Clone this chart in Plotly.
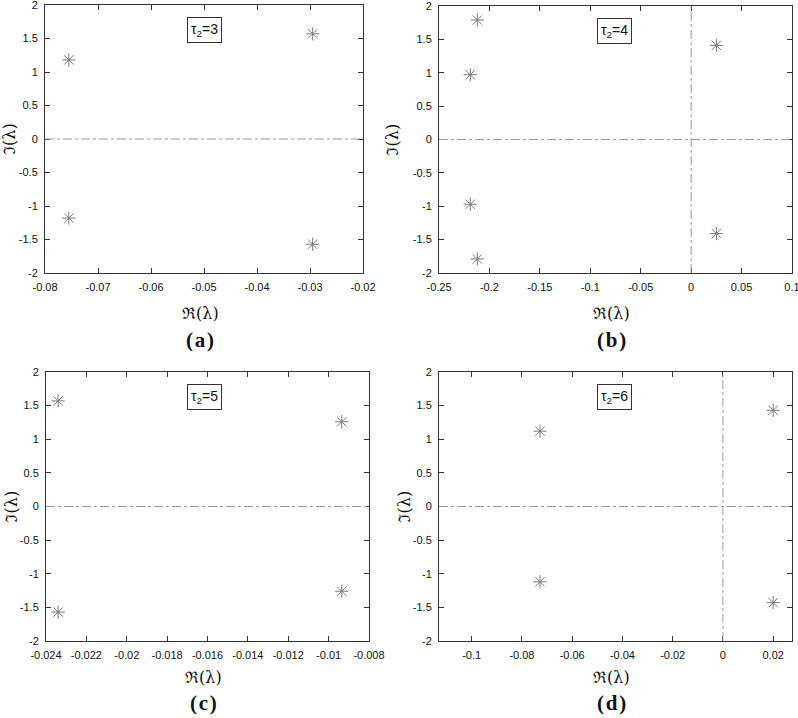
import plotly.graph_objects as go

# eigenvalues for each tau_2 (real part, imaginary part)
re_a = [-0.0755, -0.0755, -0.0295, -0.0295]
im_a = [1.18, -1.18, 1.57, -1.57]

re_b = [-0.212, -0.219, -0.219, -0.212, 0.025, 0.025]
im_b = [1.79, 0.97, -0.97, -1.79, 1.41, -1.41]

re_c = [-0.0234, -0.0234, -0.00935, -0.00935]
im_c = [1.57, -1.57, 1.26, -1.26]

re_d = [-0.0728, -0.0728, 0.020, 0.020]
im_d = [1.12, -1.12, 1.43, -1.43]

taus = [3, 4, 5, 6]
panel_letters = ["(a)", "(b)", "(c)", "(d)"]

x_ranges = [[-0.08, -0.02], [-0.25, 0.1], [-0.024, -0.008], [-0.113, 0.0275]]
x_ticks = [
    [-0.08, -0.07, -0.06, -0.05, -0.04, -0.03, -0.02],
    [-0.25, -0.2, -0.15, -0.1, -0.05, 0, 0.05, 0.1],
    [-0.024, -0.022, -0.02, -0.018, -0.016, -0.014, -0.012, -0.01, -0.008],
    [-0.1, -0.08, -0.06, -0.04, -0.02, 0, 0.02],
]
x_ticktext = [
    ["-0.08", "-0.07", "-0.06", "-0.05", "-0.04", "-0.03", "-0.02"],
    ["-0.25", "-0.2", "-0.15", "-0.1", "-0.05", "0", "0.05", "0.1"],
    ["-0.024", "-0.022", "-0.02", "-0.018", "-0.016", "-0.014", "-0.012", "-0.01", "-0.008"],
    ["-0.1", "-0.08", "-0.06", "-0.04", "-0.02", "0", "0.02"],
]
y_ticks = [-2, -1.5, -1, -0.5, 0, 0.5, 1, 1.5, 2]
y_ticktext = ["-2", "-1.5", "-1", "-0.5", "0", "0.5", "1", "1.5", "2"]
vline_at_zero = [False, True, False, True]

W, H = 798, 718
# panel boxes in pixels: left, right, top, bottom
boxes = [(45, 363, 5, 273), (439, 792, 6, 273), (46, 369, 372, 641), (439, 792, 372, 641)]
ytitle_x = [10, 392, 11, 404]
# vertical gap below the plot box for the axis title and panel letter
title_gap = [40, 40, 36, 36]
letter_gap = [67, 67, 62, 62]


def px(x):
    return x / W


def py(y):
    return 1 - y / H


tick_font = dict(family="Liberation Sans", size=11, color="#111")
centred = dict(xref="paper", yref="paper", xanchor="center", yanchor="middle", showarrow=False)

fig = go.Figure()
data = [(re_a, im_a), (re_b, im_b), (re_c, im_c), (re_d, im_d)]

for i, (xs, ys) in enumerate(data):
    n = i + 1
    xa = "x" if n == 1 else f"x{n}"
    ya = "y" if n == 1 else f"y{n}"
    fig.add_trace(go.Scatter(
        x=xs, y=ys, mode="markers", xaxis=xa, yaxis=ya, showlegend=False,
        marker=dict(symbol="asterisk-open", size=11, color="#7a7a7a",
                    line=dict(color="#7a7a7a", width=1)),
    ))
    l, r, t, b = boxes[i]
    ax = dict(
        domain=[px(l), px(r)], range=x_ranges[i], tickvals=x_ticks[i], ticktext=x_ticktext[i],
        ticks="inside", ticklen=5, tickcolor="#333", showgrid=False, zeroline=False,
        showline=True, linecolor="#333", linewidth=1, mirror="allticks", automargin=False,
        anchor=ya, tickfont=tick_font, ticklabelstandoff=4, ticklabeloverflow="allow",
    )
    ay = dict(
        domain=[py(b), py(t)], range=[-2, 2], tickvals=y_ticks, ticktext=y_ticktext,
        ticks="inside", ticklen=5, tickcolor="#333", showgrid=False, zeroline=False,
        showline=True, linecolor="#333", linewidth=1, mirror="allticks", automargin=False,
        anchor=xa, tickfont=tick_font, ticklabelstandoff=4, ticklabeloverflow="allow",
    )
    fig.update_layout(**{("xaxis" if n == 1 else f"xaxis{n}"): ax,
                         ("yaxis" if n == 1 else f"yaxis{n}"): ay})

    # dash-dot zero axes
    fig.add_shape(type="line", xref=f"{xa} domain", yref=ya, x0=0, x1=1, y0=0, y1=0,
                  line=dict(color="#9a9a9a", width=1, dash="dashdot"))
    if vline_at_zero[i]:
        fig.add_shape(type="line", xref=xa, yref=f"{ya} domain", x0=0, x1=0, y0=0, y1=1,
                      line=dict(color="#9a9a9a", width=1, dash="dashdot"))

    cx = (l + r) / 2
    # tau legend box
    fig.add_annotation(**centred, x=px(204 if i % 2 == 0 else 614), y=py(t + 25),
                       text=f"τ<sub>2</sub>={taus[i]}",
                       font=dict(family="Liberation Sans", size=14, color="#111"),
                       bordercolor="#333", borderwidth=1, borderpad=3, bgcolor="white")
    # axis titles
    fig.add_annotation(**centred, x=px(cx - 4), y=py(b + title_gap[i]), text="ℜ(λ)",
                       font=dict(family="DejaVu Serif", size=16, color="#111"))
    fig.add_annotation(**centred, x=px(ytitle_x[i]), y=py((t + b) / 2), text="ℑ(λ)",
                       textangle=-90, font=dict(family="DejaVu Serif", size=16, color="#111"))
    fig.add_annotation(**centred, x=px(cx - 4), y=py(b + letter_gap[i]),
                       text="<b>" + "\u200a".join(panel_letters[i]) + "</b>",
                       font=dict(family="Liberation Serif", size=21, color="#111"))

fig.update_layout(width=W, height=H, margin=dict(l=0, r=0, t=0, b=0),
                  plot_bgcolor="white", paper_bgcolor="white")

# drop the default 8px page margin so the figure sits at the window origin
fig.write_html("out.html", config={"displayModeBar": False},
               post_script="document.body.style.margin='0';")
